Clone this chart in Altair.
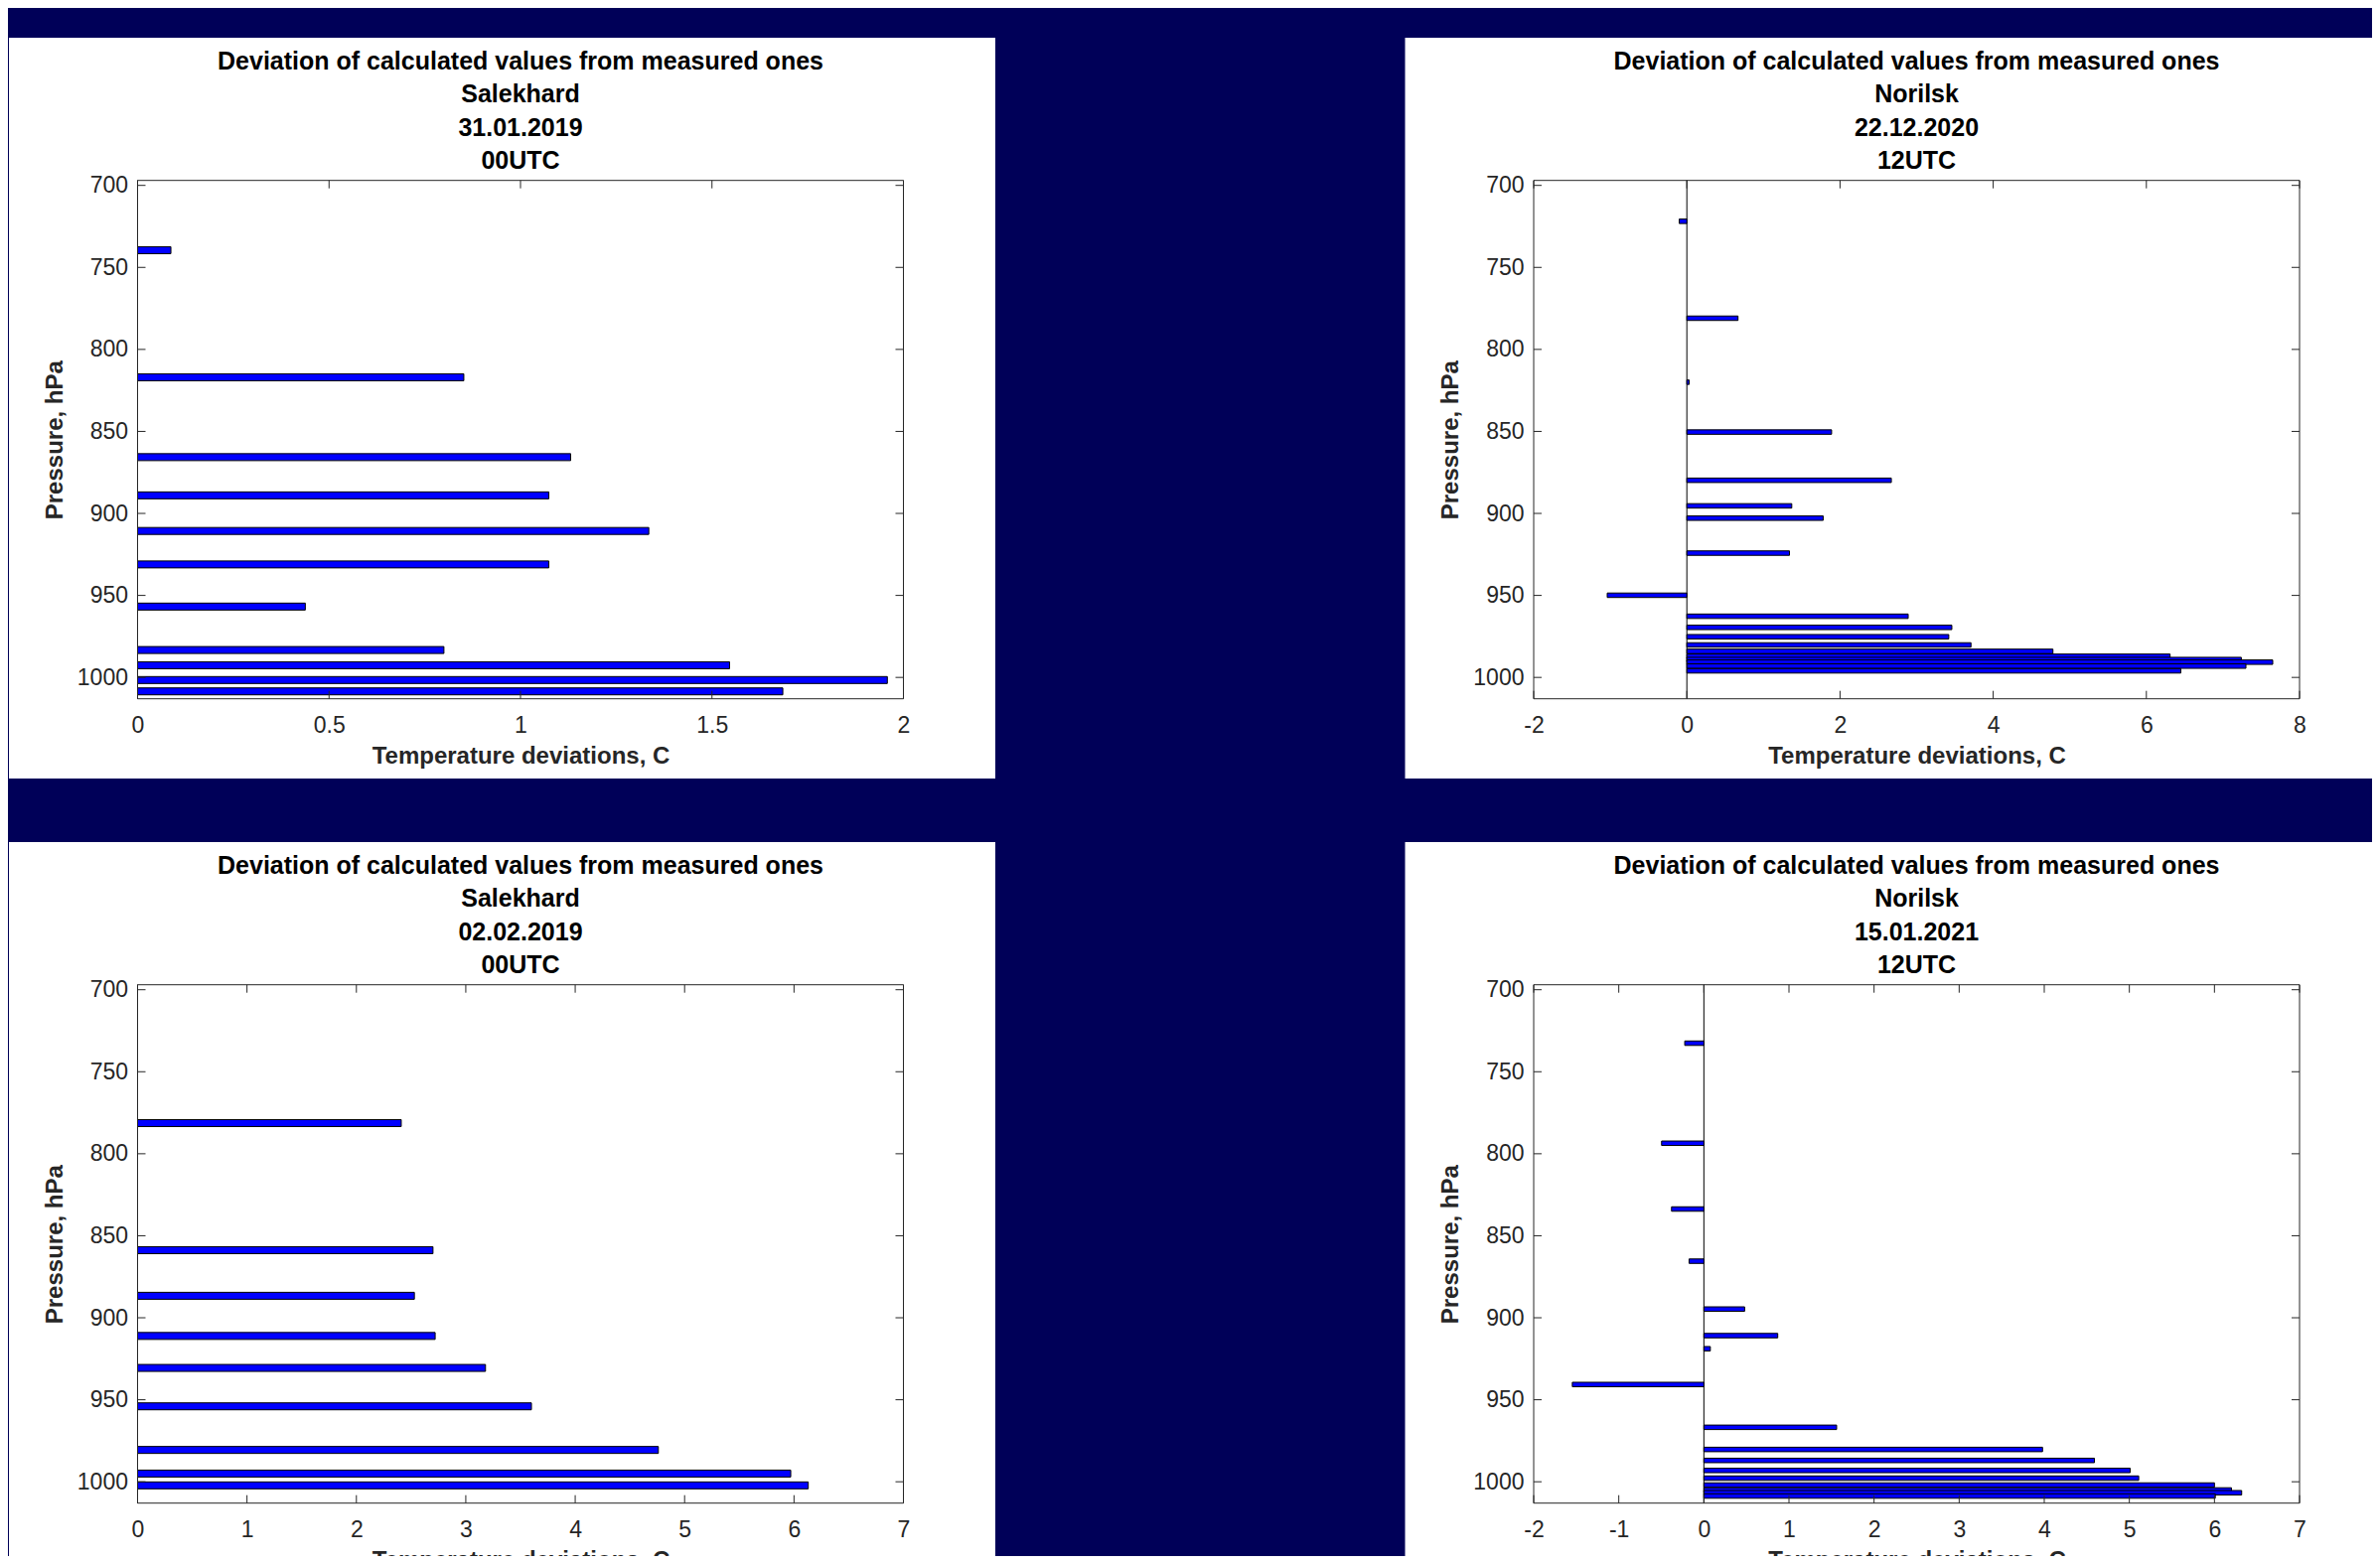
import altair as alt
import pandas as pd

HEADER = "Deviation of calculated values from measured ones"
X_TITLE = "Temperature deviations, C"
Y_TITLE = "Pressure, hPa"

y_ticks = [700, 750, 800, 850, 900, 950, 1000]

# Panel 1: Salekhard 31.01.2019 00UTC
p1_city, p1_date, p1_time = "Salekhard", "31.01.2019", "00UTC"
p1_pressure = [739.5, 817.0, 865.7, 889.0, 910.7, 931.1, 956.8, 983.3, 992.6, 1001.6, 1008.5]
p1_dev = [0.087, 0.852, 1.131, 1.074, 1.335, 1.074, 0.438, 0.800, 1.546, 1.958, 1.685]
p1_xticks = [0, 0.5, 1, 1.5, 2]

# Panel 2: Norilsk 22.12.2020 12UTC
p2_city, p2_date, p2_time = "Norilsk", "22.12.2020", "12UTC"
p2_pressure = [721.9, 781.0, 820.0, 850.4, 879.8, 895.4, 902.9, 924.2, 949.9, 962.7,
               969.5, 975.2, 980.2, 984.1, 987.1, 989.1, 990.7, 993.1, 996.0]
p2_dev = [-0.10, 0.668, 0.03, 1.89, 2.67, 1.37, 1.78, 1.34, -1.04, 2.89,
          3.46, 3.42, 3.71, 4.78, 6.31, 7.24, 7.65, 7.30, 6.45]
p2_xticks = [-2, 0, 2, 4, 6, 8]

# Panel 3: Salekhard 02.02.2019 00UTC
p3_city, p3_date, p3_time = "Salekhard", "02.02.2019", "00UTC"
p3_pressure = [781.3, 858.8, 886.6, 911.1, 930.6, 954.0, 980.6, 995.0, 1002.2]
p3_dev = [2.41, 2.70, 2.53, 2.72, 3.18, 3.60, 4.76, 5.97, 6.13]
p3_xticks = [0, 1, 2, 3, 4, 5, 6, 7]

# Panel 4: Norilsk 15.01.2021 12UTC
p4_city, p4_date, p4_time = "Norilsk", "15.01.2021", "12UTC"
p4_pressure = [732.6, 793.6, 833.7, 865.5, 894.7, 910.9, 918.9, 940.7, 966.8,
               980.3, 987.0, 993.1, 997.8, 1002.0, 1005.0, 1006.7, 1008.7]
p4_dev = [-0.225, -0.497, -0.38, -0.174, 0.479, 0.868, 0.076, -1.546, 1.56,
          3.98, 4.59, 5.01, 5.11, 6.00, 6.20, 6.32, 6.01]
p4_xticks = [-2, -1, 0, 1, 2, 3, 4, 5, 6, 7]

W, H = 771, 522
FONT = "Liberation Sans"
AX = "#262626"
TICK = 8


def make_panel(city, date, utc, pressures, devs, xdomain, xticks, bar_size, bg_right, bg_bottom):
    df = pd.DataFrame({"p": pressures, "dev": devs})
    one = pd.DataFrame({"k": [0]})
    xscale = alt.Scale(domain=xdomain, nice=False, zero=False)
    yscale = alt.Scale(domain=[700, 1010], reverse=True, nice=False, zero=False)

    bg = alt.Chart(one).mark_rect(fill="white").encode(
        x=alt.value(-129.5), x2=alt.value(bg_right),
        y=alt.value(-143.7), y2=alt.value(bg_bottom))

    zero = alt.Chart(pd.DataFrame({"z": [0]})).mark_rule(color="black", strokeWidth=1).encode(
        x=alt.X("z:Q", scale=xscale, axis=None))

    bars = alt.Chart(df).mark_bar(
        orient="horizontal", size=bar_size, fill="#0000ff", stroke="black",
        strokeWidth=1, clip=True
    ).encode(
        x=alt.X("dev:Q", scale=xscale, stack=None,
                axis=alt.Axis(values=xticks, title=X_TITLE, ticks=False, domain=False,
                              grid=False, labelFont=FONT, labelFontSize=23,
                              labelColor=AX, labelPadding=16, labelFlush=False,
                              labelOverlap=False, labelExpr="toString(datum.value)",
                              titleFont=FONT, titleFontSize=24, titleFontWeight="bold",
                              titleColor=AX, titleX=W / 2, titleY=65,
                              titleBaseline="alphabetic", titleAlign="center", zindex=2)),
        y=alt.Y("p:Q", scale=yscale,
                axis=alt.Axis(values=y_ticks, title=Y_TITLE, ticks=False, domain=False,
                              grid=False, labelFont=FONT, labelFontSize=23,
                              labelColor=AX, labelPadding=10, labelFlush=False,
                              labelOverlap=False, labelExpr="toString(datum.value)",
                              titleFont=FONT, titleFontSize=24, titleFontWeight="bold",
                              titleColor=AX, titleX=-76.5, titleY=H / 2, titleAngle=270,
                              titleBaseline="alphabetic", titleAlign="center", zindex=2)),
    )

    box = alt.Chart(one).mark_rect(filled=False, stroke=AX, strokeWidth=1).encode(
        x=alt.value(0), x2=alt.value(W), y=alt.value(0), y2=alt.value(H))

    xt = pd.DataFrame({"t": xticks})
    yt = pd.DataFrame({"t": y_ticks})
    xt_top = alt.Chart(xt).mark_rule(color=AX, strokeWidth=1).encode(
        x=alt.X("t:Q", scale=xscale, axis=None), y=alt.value(0), y2=alt.value(TICK))
    xt_bot = alt.Chart(xt).mark_rule(color=AX, strokeWidth=1).encode(
        x=alt.X("t:Q", scale=xscale, axis=None), y=alt.value(H - TICK), y2=alt.value(H))
    yt_left = alt.Chart(yt).mark_rule(color=AX, strokeWidth=1).encode(
        y=alt.Y("t:Q", scale=yscale, axis=None), x=alt.value(0), x2=alt.value(TICK))
    yt_right = alt.Chart(yt).mark_rule(color=AX, strokeWidth=1).encode(
        y=alt.Y("t:Q", scale=yscale, axis=None), x=alt.value(W - TICK), x2=alt.value(W))

    header = alt.Chart(one).mark_text(
        lineBreak="\n", lineHeight=33.5, fontSize=25, fontWeight="bold", font=FONT,
        align="center", baseline="alphabetic", color="black"
    ).encode(
        x=alt.value(W / 2), y=alt.value(-112.2),
        text=alt.value("\n".join([HEADER, city, date, utc])))

    return alt.layer(
        bg, zero, bars, box, xt_top, xt_bot, yt_left, yt_right, header
    ).resolve_axis(x="independent", y="independent").properties(width=W, height=H)


c1 = make_panel(p1_city, p1_date, p1_time, p1_pressure, p1_dev, [0, 2], p1_xticks, 7, W + 92.5, H + 80.3)
c2 = make_panel(p2_city, p2_date, p2_time, p2_pressure, p2_dev, [-2, 8], p2_xticks, 4.5, W + 200, H + 80.3)
c3 = make_panel(p3_city, p3_date, p3_time, p3_pressure, p3_dev, [0, 7], p3_xticks, 7, W + 92.5, H + 120)
c4 = make_panel(p4_city, p4_date, p4_time, p4_pressure, p4_dev, [-2, 7], p4_xticks, 4.5, W + 200, H + 120)

chart = alt.concat(
    c1, c2, c3, c4, columns=2, spacing={"row": 288, "column": 634.5}, bounds="flush"
).properties(
    background="#000058",
    autosize=alt.AutoSizeParams(type="none"),
    padding={"left": 130.5, "top": 173.7, "right": 2380 - 130.5, "bottom": 1559 - 173.7},
).configure_view(strokeWidth=0)

chart.save("out.html", embed_options={"renderer": "svg", "actions": False})
